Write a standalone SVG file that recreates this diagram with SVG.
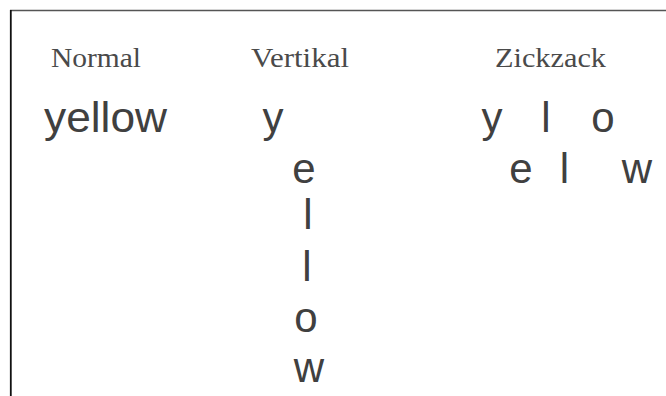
<svg xmlns="http://www.w3.org/2000/svg" width="666" height="396" viewBox="0 0 666 396">
<style>
.lbl{font-family:"Liberation Serif","Times New Roman",serif;font-size:28px;fill:#4a4a4a}
.w{font-family:"Liberation Sans",Arial,sans-serif;font-size:42px;fill:#404040}
.c{text-anchor:middle}
</style>
<rect width="666" height="396" fill="#fff"/>
<g id="frame">
<line x1="10" y1="10.5" x2="666" y2="10.5" stroke="#555" stroke-width="1.5"/>
<line x1="10.8" y1="10" x2="10.8" y2="396" stroke="#111" stroke-width="1.8"/>
</g>
<g id="normal">
<text class="lbl" x="51" y="67" textLength="90" lengthAdjust="spacingAndGlyphs">Normal</text>
<text class="w" x="44" y="132" textLength="123" lengthAdjust="spacingAndGlyphs">yellow</text>
</g>
<g id="vertikal">
<text class="lbl" x="251" y="67" textLength="98" lengthAdjust="spacingAndGlyphs">Vertikal</text>
<text class="w c" x="273" y="132">y</text>
<text class="w c" x="304" y="183">e</text>
<text class="w c" x="308" y="229">l</text>
<text class="w c" x="307" y="281">l</text>
<text class="w c" x="306" y="332">o</text>
<text class="w c" x="309" y="382">w</text>
</g>
<g id="zickzack">
<text class="lbl" x="495" y="67" textLength="111" lengthAdjust="spacingAndGlyphs">Zickzack</text>
<text class="w c" x="492" y="132">y</text>
<text class="w c" x="546" y="132">l</text>
<text class="w c" x="603" y="132">o</text>
<text class="w c" x="521" y="183">e</text>
<text class="w c" x="564.5" y="183">l</text>
<text class="w c" x="637" y="183">w</text>
</g>
</svg>
